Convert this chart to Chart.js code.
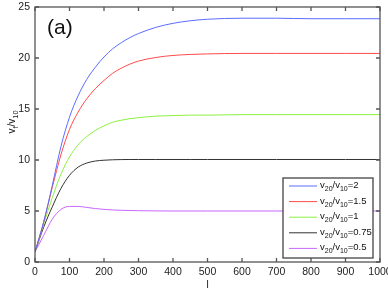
<!doctype html>
<html lang="en">
<head>
<meta charset="UTF-8" />
<title>v_f/v_10 vs l</title>
<script src="https://cdn.jsdelivr.net/npm/chart.js"></script>
<style>
  html, body { margin: 0; padding: 0; background: #fff; }
  #caixa { width: 388px; height: 292px; }
</style>
</head>
<body>
<div id="caixa"><canvas id="grafico"></canvas></div>
<script>
// valores
const comprimento = [0, 25, 50, 75, 100, 125, 150, 175, 200, 225, 250, 275, 300, 350, 400, 450, 500, 600, 700, 800, 900, 1000];
const razao2   = [1, 3.9, 7.5, 11.3, 14.2, 16.3, 17.9, 19.1, 20.1, 20.9, 21.5, 22.0, 22.4, 23.0, 23.4, 23.65, 23.8, 23.9, 23.9, 23.85, 23.85, 23.85];
const razao15  = [1, 3.9, 7.3, 10.5, 13.0, 14.7, 16.0, 17.0, 17.8, 18.5, 19.0, 19.4, 19.7, 20.05, 20.25, 20.35, 20.4, 20.45, 20.45, 20.45, 20.45, 20.45];
const razao1   = [1, 3.7, 6.3, 8.6, 10.3, 11.5, 12.3, 12.9, 13.35, 13.7, 13.9, 14.05, 14.15, 14.3, 14.35, 14.4, 14.4, 14.45, 14.45, 14.45, 14.45, 14.45];
const razao075 = [1, 3.4, 5.4, 7.2, 8.5, 9.3, 9.7, 9.9, 9.98, 10.02, 10.04, 10.05, 10.05, 10.05, 10.05, 10.05, 10.05, 10.05, 10.05, 10.05, 10.05, 10.05];
const razao05  = [1, 2.6, 4.2, 5.15, 5.45, 5.45, 5.35, 5.24, 5.16, 5.1, 5.07, 5.05, 5.03, 5.01, 5.0, 5.0, 5.0, 5.0, 5.0, 5.0, 5.0, 5.0];
const rotulosRazao = ["2", "1.5", "1", "0.75", "0.5"];
const ticksX = [0, 100, 200, 300, 400, 500, 600, 700, 800, 900, 1000];
const ticksY = [0, 5, 10, 15, 20, 25];

const series = [razao2, razao15, razao1, razao075, razao05];
const cores = ["#5b6cff", "#ff4a4a", "#8cf040", "#333333", "#c866ff"];
const fonte = '"Liberation Sans", Arial, sans-serif';

function pontos(serie) {
  return comprimento.map((l, i) => ({ x: l, y: serie[i] }));
}

// escreve texto com partes subscritas
function textoSub(ctx, partes, x, y, tam, medir) {
  let cx = x;
  partes.forEach(([t, sub]) => {
    ctx.font = (sub ? tam * 0.74 : tam) + "px " + fonte;
    if (!medir) ctx.fillText(t, cx, sub ? y + tam * 0.32 : y);
    cx += ctx.measureText(t).width;
  });
  return cx - x;
}

const molduraPlugin = {
  id: "moldura",
  afterDraw(chart) {
    const { ctx, chartArea: a, scales: { x, y } } = chart;
    ctx.save();
    ctx.strokeStyle = "#555";
    ctx.lineWidth = 1.3;
    ctx.strokeRect(a.left, a.top, a.right - a.left, a.bottom - a.top);
    ctx.beginPath();
    ticksX.forEach((v) => {
      const px = x.getPixelForValue(v);
      ctx.moveTo(px, a.bottom); ctx.lineTo(px, a.bottom - 4);
      ctx.moveTo(px, a.top); ctx.lineTo(px, a.top + 4);
    });
    ticksY.forEach((v) => {
      const py = y.getPixelForValue(v);
      ctx.moveTo(a.left, py); ctx.lineTo(a.left + 4, py);
      ctx.moveTo(a.right, py); ctx.lineTo(a.right - 4, py);
    });
    ctx.stroke();

    ctx.fillStyle = "#111";
    ctx.textBaseline = "alphabetic";

    // titulo do eixo y
    const partesY = [["v", false], ["f", true], ["/v", false], ["10", true]];
    ctx.save();
    ctx.translate(15, 122);
    ctx.rotate(-Math.PI / 2);
    const w = textoSub(ctx, partesY, 0, 0, 10, true);
    textoSub(ctx, partesY, -w / 2, 0, 10, false);
    ctx.restore();

    // titulo do eixo x
    ctx.font = "10px " + fonte;
    ctx.textAlign = "center";
    ctx.fillText("l", (a.left + a.right) / 2, 288);
    ctx.textAlign = "left";

    // rotulo do painel
    ctx.font = "21px " + fonte;
    ctx.fillText("(a)", 47, 34);

    // legenda
    ctx.fillStyle = "#fff";
    ctx.fillRect(283, 178, 90, 80);
    ctx.strokeStyle = "#444";
    ctx.lineWidth = 1.3;
    ctx.strokeRect(283, 178, 90, 80);
    rotulosRazao.forEach((r, i) => {
      const yc = 186 + i * 15.6;
      ctx.strokeStyle = cores[i];
      ctx.lineWidth = 1;
      ctx.beginPath();
      ctx.moveTo(289, yc); ctx.lineTo(317, yc);
      ctx.stroke();
      ctx.fillStyle = "#111";
      textoSub(ctx, [["v", false], ["20", true], ["/v", false], ["10", true], ["=" + r, false]], 320, yc + 2, 9.5, false);
    });
    ctx.restore();
  }
};

new Chart(document.getElementById("grafico"), {
  type: "line",
  data: {
    datasets: series.map((s, i) => ({
      label: "v20/v10=" + rotulosRazao[i],
      data: pontos(s),
      borderColor: cores[i],
      borderWidth: 1,
      pointRadius: 0,
      fill: false,
      cubicInterpolationMode: "monotone",
    })),
  },
  options: {
    responsive: true,
    maintainAspectRatio: false,
    animation: false,
    layout: { padding: { top: 7, right: 8, left: 0, bottom: 0 } },
    plugins: { legend: { display: false }, tooltip: { enabled: false } },
    scales: {
      x: {
        type: "linear",
        min: 0,
        max: 1000,
        afterBuildTicks: (s) => { s.ticks = ticksX.map((v) => ({ value: v })); },
        afterFit: (s) => { s.height = 30; s.paddingLeft = 0; s.paddingRight = 0; },
        grid: { display: false, drawTicks: false },
        border: { display: false },
        ticks: {
          padding: 4, color: "#222", maxRotation: 0,
          font: { family: fonte, size: 10.5 },
          callback: (v) => String(v),
        },
      },
      y: {
        min: 0,
        max: 25,
        afterBuildTicks: (s) => { s.ticks = ticksY.map((v) => ({ value: v })); },
        afterFit: (s) => { s.width = 35; s.paddingTop = 0; s.paddingBottom = 0; },
        grid: { display: false, drawTicks: false },
        border: { display: false },
        ticks: {
          padding: 5, color: "#222",
          font: { family: fonte, size: 10.5 },
          callback: (v) => String(v),
        },
      },
    },
  },
  plugins: [molduraPlugin],
});
</script>
</body>
</html>
